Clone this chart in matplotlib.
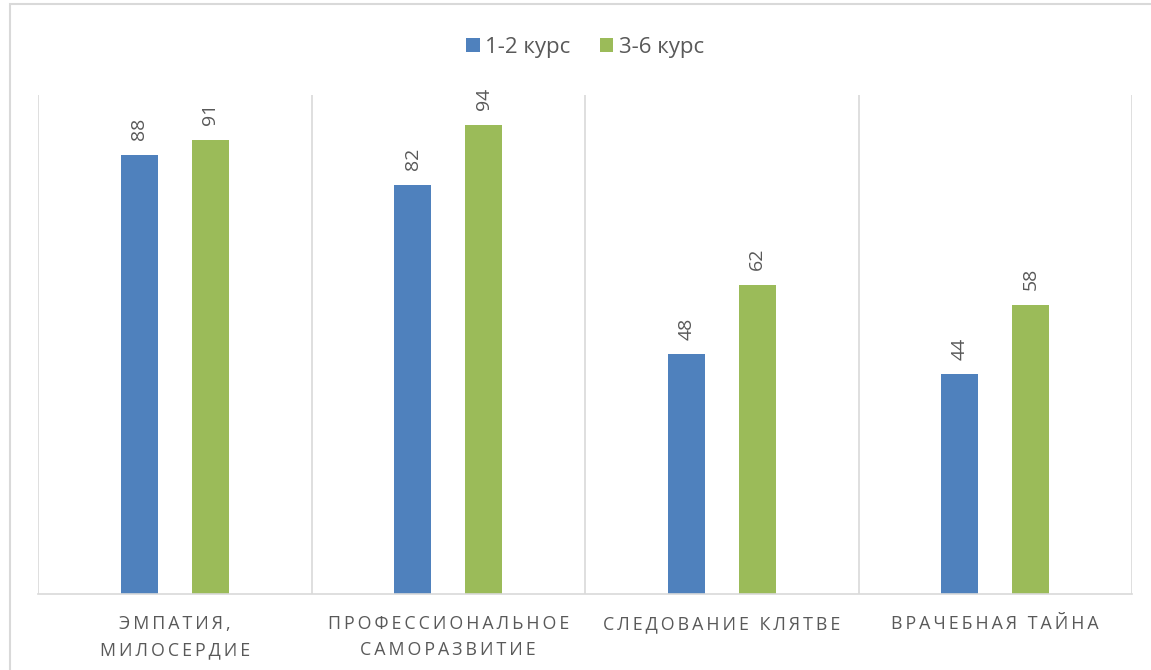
import matplotlib
matplotlib.use("Agg")
import matplotlib.pyplot as plt
from matplotlib.patches import Rectangle

plt.rcParams['font.family'] = ['Open Sans', 'DejaVu Sans']

categories = ["ЭМПАТИЯ,\nМИЛОСЕРДИЕ", "ПРОФЕССИОНАЛЬНОЕ\nСАМОРАЗВИТИЕ",
              "СЛЕДОВАНИЕ КЛЯТВЕ", "ВРАЧЕБНАЯ ТАЙНА"]
series_names = ["1-2 курс", "3-6 курс"]
course_12 = [88, 82, 48, 44]
course_36 = [91, 94, 62, 58]

blue = "#4F81BD"
green = "#9BBB59"
grey = "#595959"
line_col = "#D9D9D9"


def spaced(s):
    # imitate the wide letter spacing of the original axis labels
    return "\n".join("\u2009".join(word) for word in s.split("\n"))


fig = plt.figure(figsize=(11.51, 6.70), dpi=100)
fig.patches.append(Rectangle((10 / 1151, -0.1), 1.2, 1.1 - 4 / 670,
                             transform=fig.transFigure, fill=False,
                             edgecolor=line_col, linewidth=1.5))

ax = fig.add_axes([38 / 1151, 76 / 670, 1094 / 1151, 499 / 670])

x = [i + 0.5 for i in range(len(categories))]
w = 0.135
off = 0.13
b1 = ax.bar([v - off for v in x], course_12, w, color=blue, label=series_names[0])
b2 = ax.bar([v + off for v in x], course_36, w, color=green, label=series_names[1])

for bars in (b1, b2):
    for r in bars:
        ax.annotate(str(int(r.get_height())),
                    (r.get_x() + r.get_width() / 2, r.get_height()),
                    xytext=(0, 10.5), textcoords="offset points",
                    rotation=90, ha="center", va="bottom",
                    fontsize=14, color=grey)

ax.set_xlim(0, 4)
ax.set_ylim(0, 100)
ax.vlines(range(5), 0, 100, color=line_col, linewidth=1.2)
for s in ("top", "right", "left"):
    ax.spines[s].set_visible(False)
ax.spines["bottom"].set_color(line_col)
ax.spines["bottom"].set_linewidth(1.2)
ax.set_yticks([])
ax.set_xticks(x)
ax.set_xticklabels([spaced(c) for c in categories], fontsize=12.8,
                   color=grey, linespacing=1.6)
ax.tick_params(axis="x", length=0, pad=15)

ax.legend(loc="center", bbox_to_anchor=(0.5, 1.096), ncol=2, frameon=False,
          fontsize=16, labelcolor=grey, handlelength=0.62, handleheight=0.62,
          columnspacing=1.3, handletextpad=0.25)

fig.savefig("out.png", dpi=100)
